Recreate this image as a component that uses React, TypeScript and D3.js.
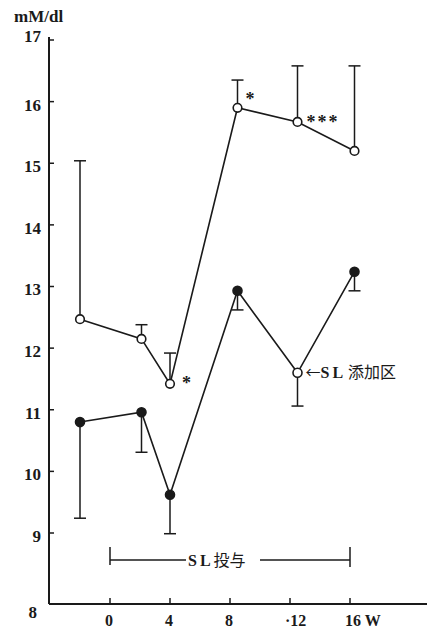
import React from "react";
import * as d3 from "d3";

const weeks = [-2, 2.1, 4, 8.5, 12.5, 16.3];
const upperMean = [12.47, 12.15, 11.42, 15.9, 15.67, 15.2];
const upperErr = [15.04, 12.38, 11.92, 16.35, 16.58, 16.58];
const lowerMean = [10.8, 10.96, 9.62, 12.93, 11.6, 13.24];
const lowerErr = [9.24, 10.31, 8.99, 12.62, 11.06, 12.93];
const lowerOpen = [false, false, false, false, true, false];
const yTicks = [9, 10, 11, 12, 13, 14, 15, 16, 17];
const xTicks = [0, 4, 8, 12, 16];
const xTickLabels = ["0", "4", "8", "·12", "16 W"];
const stars = [
  { i: 2, text: "*", dx: 12, dy: 5 },
  { i: 3, text: "*", dx: 8, dy: -3 },
  { i: 4, text: "***", dx: 9, dy: 6 },
];

export default function App() {
  const W = 427, H = 632;
  const x = d3.scaleLinear().domain([0, 16]).range([110, 350]);
  const y = d3.scaleLinear().domain([8, 9, 17]).range([604, 533, 40]);
  const axisX = 49;
  const line = d3.line<number>().x((_, i) => x(weeks[i])).y((d) => y(d));
  const serif = "'Liberation Serif', 'DejaVu Serif', serif";
  const cjk = "'Noto Sans CJK JP', sans-serif";
  const ink = "#1a1a1a";
  return (
    <svg width={W} height={H} style={{ position: "absolute", left: 0, top: 0, background: "#fff" }}>
      <rect width={W} height={H} fill="#fff" />
      {/* axes */}
      <line x1={axisX} x2={axisX} y1={y(17) - 3} y2={y(8)} stroke={ink} strokeWidth={2} />
      <line x1={axisX} x2={W} y1={y(8)} y2={y(8)} stroke={ink} strokeWidth={2} />
      {yTicks.map((t) => (
        <g key={t}>
          <line x1={axisX} x2={axisX + 5} y1={y(t)} y2={y(t)} stroke={ink} strokeWidth={1.5} />
          <text x={axisX - 8} y={y(t) + (t === 17 ? -4 : 3)} dy="0.35em" textAnchor="end" fontFamily={serif} fontWeight="bold" fontSize={17} fill={ink}>{t}</text>
        </g>
      ))}
      <text x={37} y={y(8)} dy="0.85em" textAnchor="end" fontFamily={serif} fontWeight="bold" fontSize={17} fill={ink}>8</text>
      <text x={14} y={22} fontFamily={serif} fontWeight="bold" fontSize={17} fill={ink}>mM/dl</text>
      {xTicks.map((t, i) => (
        <g key={t}>
          <line x1={x(t)} x2={x(t)} y1={y(8)} y2={y(8) - 6} stroke={ink} strokeWidth={1.5} />
          <text x={x(t) - 5} y={y(8) + 22} textAnchor="start" fontFamily={serif} fontWeight="bold" fontSize={16} fill={ink}>{xTickLabels[i]}</text>
        </g>
      ))}
      {/* SL 投与 bracket */}
      <line x1={x(0)} x2={x(0)} y1={547} y2={565} stroke={ink} strokeWidth={1.5} />
      <line x1={x(0)} x2={186} y1={560} y2={560} stroke={ink} strokeWidth={1.3} />
      <text x={188} y={566} fill={ink}>
        <tspan fontFamily={serif} fontWeight="bold" fontSize={16} letterSpacing={3}>SL</tspan>
        <tspan fontFamily={cjk} fontSize={16}>投与</tspan>
      </text>
      <line x1={260} x2={x(16)} y1={560} y2={560} stroke={ink} strokeWidth={1.3} />
      <line x1={x(16)} x2={x(16)} y1={547} y2={567} stroke={ink} strokeWidth={1.5} />
      {/* error bars */}
      {weeks.map((w, i) => (
        <g key={"e" + i} stroke={ink} strokeWidth={1.5}>
          <line x1={x(w)} x2={x(w)} y1={y(upperMean[i])} y2={y(upperErr[i])} />
          <line x1={x(w) - 6} x2={x(w) + 6} y1={y(upperErr[i])} y2={y(upperErr[i])} />
          <line x1={x(w)} x2={x(w)} y1={y(lowerMean[i])} y2={y(lowerErr[i])} />
          <line x1={x(w) - 6} x2={x(w) + 6} y1={y(lowerErr[i])} y2={y(lowerErr[i])} />
        </g>
      ))}
      <path d={line(upperMean) || ""} fill="none" stroke={ink} strokeWidth={1.6} />
      <path d={line(lowerMean) || ""} fill="none" stroke={ink} strokeWidth={1.6} />
      {weeks.map((w, i) => (
        <circle key={"u" + i} cx={x(w)} cy={y(upperMean[i])} r={4.3} fill="#fff" stroke={ink} strokeWidth={1.6} />
      ))}
      {weeks.map((w, i) => (
        <circle key={"l" + i} cx={x(w)} cy={y(lowerMean[i])} r={4.5} fill={lowerOpen[i] ? "#fff" : ink} stroke={ink} strokeWidth={1.6} />
      ))}
      {stars.map((s, k) => (
        <text key={"s" + k} x={x(weeks[s.i]) + s.dx} y={y(upperMean[s.i]) + s.dy} fontFamily={serif} fontWeight="bold" fontSize={18} fill={ink} letterSpacing={2}>{s.text}</text>
      ))}
      {/* SL 添加区 annotation */}
      <text x={x(weeks[4]) + 8} y={y(lowerMean[4]) + 5} fill={ink}>
        <tspan fontFamily={cjk} fontSize={15}>←</tspan>
        <tspan fontFamily={serif} fontWeight="bold" fontSize={16} letterSpacing={3}>SL</tspan>
        <tspan fontFamily={cjk} fontSize={16} dx={2}>添加区</tspan>
      </text>
    </svg>
  );
}
